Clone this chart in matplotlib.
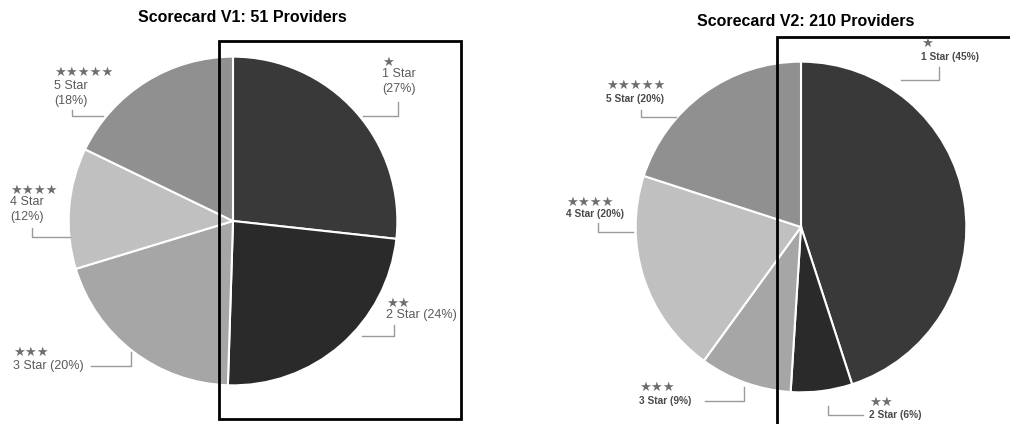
import matplotlib.pyplot as plt
from matplotlib.patches import Rectangle

plt.rcParams['font.family'] = ['Liberation Sans', 'DejaVu Sans']

# ------------------------------------------------------------
# data
# ------------------------------------------------------------
star_levels = [1, 2, 3, 4, 5]
v1_providers = 51
v2_providers = 210
v1_pct = [27, 24, 20, 12, 18]
v2_pct = [45, 6, 9, 20, 20]
slice_colors = ['#393939', '#2a2a2a', '#a6a6a6', '#c0c0c0', '#909090']

W, H = 1010, 424

# label layout, in figure pixels (x, y from top-left)
# (text x, star y, text y, two-line?, leader polyline)
v1_layout = [
    (382, 62, 74, True, [(363, 116), (398, 116), (398, 102)]),
    (386, 303, 315, False, [(362, 336), (394, 336), (394, 325)]),
    (13, 352, 366, False, [(131, 352), (131, 366), (91, 366)]),
    (10, 190, 202, True, [(70, 237), (32, 237), (32, 228)]),
    (54, 72, 86, True, [(103, 116), (72, 116), (72, 110)]),
]
v2_layout = [
    (921, 43, 57, False, [(901, 80), (939, 80), (939, 67)]),
    (869, 402, 415, False, [(828, 406), (828, 415), (863, 415)]),
    (639, 387, 401, False, [(705, 401), (744, 401), (744, 387)]),
    (566, 202, 214, False, [(633, 232), (598, 232), (598, 223)]),
    (606, 85, 99, False, [(676, 117), (641, 117), (641, 110)]),
]
line_gap = 15

fig = plt.figure(figsize=(W / 100, H / 100), dpi=100)


def pie_axes(cx, cy, r):
    return fig.add_axes([(cx - r) / W, (H - cy - r) / H, 2 * r / W, 2 * r / H])


def draw_pie(ax, pct):
    ax.pie(pct, colors=slice_colors, startangle=90, counterclock=False,
           radius=1.0, wedgeprops=dict(edgecolor='white', linewidth=1.5))
    ax.set_xlim(-1.01, 1.01)
    ax.set_ylim(-1.01, 1.01)
    ax.set_aspect('equal')
    ax.axis('off')


draw_pie(pie_axes(233, 221, 166), v1_pct)
draw_pie(pie_axes(801, 227, 167), v2_pct)

# overlay in pixel coordinates for labels, leaders and frames
ov = fig.add_axes([0, 0, 1, 1], zorder=5)
ov.set_xlim(0, W)
ov.set_ylim(H, 0)
ov.patch.set_alpha(0)
ov.axis('off')


def draw_labels(pct, layout, size, weight, color):
    for n, p, (tx, sy, ty, wrap, path) in zip(star_levels, pct, layout):
        ov.text(tx, sy, '★' * n, fontsize=9.5, color='#6e6e6e',
                family='DejaVu Sans', ha='left', va='center')
        if wrap:
            lines = [f'{n} Star', f'({p}%)']
        else:
            lines = [f'{n} Star ({p}%)']
        for i, s in enumerate(lines):
            ov.text(tx, ty + i * line_gap, s, fontsize=size, fontweight=weight,
                    color=color, ha='left', va='center')
        xs, ys = zip(*path)
        ov.plot(xs, ys, color='#9a9a9a', lw=1)


draw_labels(v1_pct, v1_layout, 9, 'normal', '#5a5a5a')
draw_labels(v2_pct, v2_layout, 7.3, 'bold', '#4a4a4a')

ov.text(242, 17, f'Scorecard V1: {v1_providers} Providers', fontsize=11.5,
        fontweight='bold', ha='center', va='center')
ov.text(806, 21, f'Scorecard V2: {v2_providers} Providers', fontsize=11.5,
        fontweight='bold', ha='center', va='center')

# highlight frames around the 1- and 2-star slices
ov.add_patch(Rectangle((219, 41), 242, 378, fill=False, edgecolor='black', lw=2))
ov.plot([777, 777, W + 5], [H + 5, 37, 37], color='black', lw=2,
        solid_joinstyle='miter')

fig.savefig('out.png', dpi=100, facecolor='white')
